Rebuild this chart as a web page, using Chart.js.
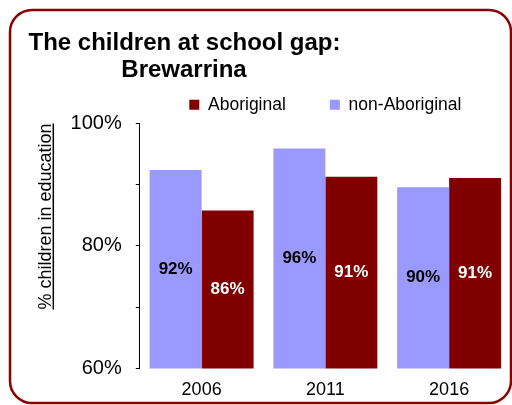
<!DOCTYPE html>
<html>
<head>
<meta charset="utf-8">
<script src="https://cdn.jsdelivr.net/npm/chart.js@4"></script>
<style>
  body { margin: 0; background: #fff; }
  #wrap { width: 512px; height: 405px; }
</style>
</head>
<body>
<div id="wrap"><canvas id="myChart" width="512" height="405"></canvas></div>
<script>
const years = ["2006", "2011", "2016"];
const nonAboriginal = [92.4, 95.9, 89.6];
const aboriginal = [85.8, 91.3, 91.1];
const titleLines = ["The children at school gap:", "Brewarrina"];
const yTicks = [60, 80, 100];

Chart.defaults.font.family = "'Liberation Sans', Arial, sans-serif";
Chart.defaults.color = "#000";

// title, frame, underline of axis title and the value labels
const extras = {
  id: "extras",
  afterDatasetsDraw(chart) {
    const ctx = chart.ctx;
    const bottom = chart.chartArea.bottom;
    ctx.save();
    ctx.font = "bold 17px 'Liberation Sans', Arial, sans-serif";
    ctx.textAlign = "center";
    ctx.textBaseline = "middle";
    chart.data.datasets.forEach((ds, i) => {
      chart.getDatasetMeta(i).data.forEach((bar, j) => {
        ctx.fillStyle = ds.labelColor;
        const base = Math.min(bar.base, bottom);
        ctx.fillText(Math.round(ds.data[j]) + "%", bar.x, (bar.y + base) / 2);
      });
    });
    ctx.restore();
  },
  afterDraw(chart) {
    const ctx = chart.ctx;
    ctx.save();
    ctx.fillStyle = "#000";
    ctx.font = "bold 24px 'Liberation Sans', Arial, sans-serif";
    ctx.textAlign = "center";
    ctx.textBaseline = "alphabetic";
    ctx.fillText(titleLines[0], 184.5, 50);
    ctx.fillText(titleLines[1], 184, 77);

    // underline of the y axis title
    const y = chart.scales.y;
    const t = y.options.title;
    ctx.font = "18px 'Liberation Sans', Arial, sans-serif";
    const w = ctx.measureText(t.text).width;
    const ux = y.left + 4 + 10.8 + 7.5;
    ctx.strokeStyle = "#000";
    ctx.lineWidth = 1.5;
    ctx.beginPath();
    ctx.moveTo(ux, y.top);
    ctx.lineTo(ux, y.top + w);
    ctx.stroke();

    // frame
    ctx.strokeStyle = "#8b0000";
    ctx.lineWidth = 2.5;
    ctx.beginPath();
    ctx.roundRect(10, 10, 501, 393, 22);
    ctx.stroke();
    ctx.restore();
  }
};

const ctx = document.getElementById("myChart").getContext("2d");

const myChart = new Chart(ctx, {
  type: "bar",
  data: {
    labels: years,
    datasets: [
      {
        label: "non-Aboriginal",
        data: nonAboriginal,
        backgroundColor: "#9999ff",
        borderWidth: 0,
        labelColor: "#000",
      },
      {
        label: "Aboriginal",
        data: aboriginal,
        backgroundColor: "#800000",
        borderWidth: 0,
        labelColor: "#fff",
      },
    ],
  },
  options: {
    responsive: false,
    animation: false,
    events: [],
    layout: { padding: { top: 52, left: 31, right: 1, bottom: -7 } },
    datasets: { bar: { categoryPercentage: 0.84, barPercentage: 1 } },
    plugins: {
      tooltip: { enabled: false },
      legend: {
        position: "top",
        fullSize: false,
        reverse: true,
        labels: {
          boxWidth: 10,
          boxHeight: 10,
          padding: 44,
          color: "#000",
          font: { size: 17.5 },
        },
      },
    },
    scales: {
      x: {
        grid: { display: false, drawTicks: false },
        border: { display: false },
        ticks: { color: "#000", font: { size: 18 }, padding: 11 },
      },
      y: {
        min: 60,
        max: 100,
        ticks: {
          stepSize: 10,
          padding: 14,
          color: "#000",
          font: { size: 20 },
          callback: (value) => {
            return yTicks.includes(value) ? value + "%" : "";
          },
        },
        grid: { drawOnChartArea: false, tickLength: 4, tickColor: "#000", color: "#000" },
        border: { color: "#000", width: 1 },
        title: {
          display: true,
          text: "% children in education",
          align: "end",
          color: "#000",
          font: { size: 18 },
          padding: { top: 4, bottom: 0 },
        },
      },
    },
  },
  plugins: [extras],
});
</script>
</body>
</html>
